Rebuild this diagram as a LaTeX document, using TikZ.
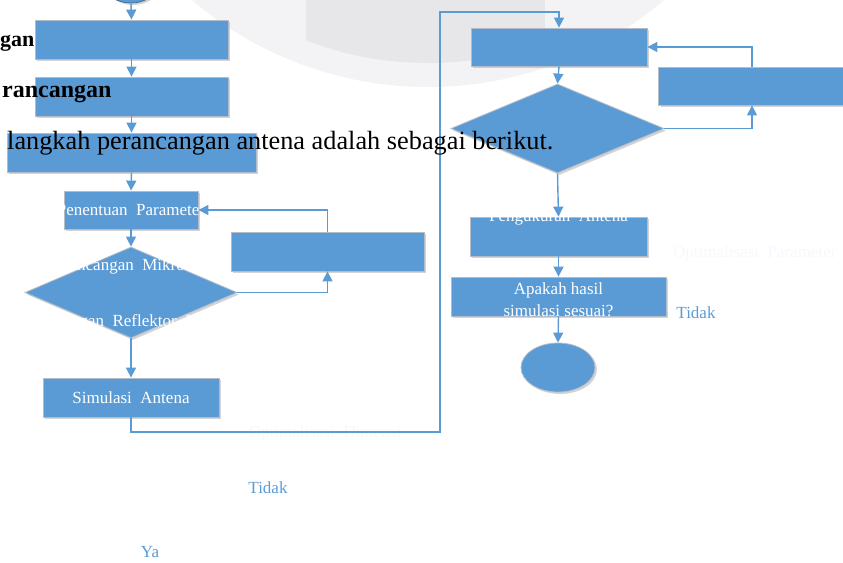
\documentclass[tikz,border=0pt]{standalone}
\usepackage{fontspec}
\setmainfont{Liberation Serif}
\usetikzlibrary{shapes.geometric,arrows.meta,shadows}
\definecolor{boxblue}{HTML}{5B9BD5}
\definecolor{boxedge}{HTML}{B4BCC8}
\definecolor{wmlight}{HTML}{F3F3F5}
\definecolor{wmdark}{HTML}{E7E7EA}
\definecolor{ghost}{HTML}{F5F8FC}
\tikzset{
  flowbox/.style={rectangle, fill=boxblue, draw=boxedge, line width=0.8pt, inner sep=0pt,
    text=white, font=\fontsize{17}{20}\selectfont, align=center,
    drop shadow={opacity=0.35, shadow xshift=2pt, shadow yshift=-2pt}},
  flowdia/.style={diamond, fill=boxblue, draw=boxedge, line width=0.8pt, inner sep=0pt,
    drop shadow={opacity=0.35, shadow xshift=2pt, shadow yshift=-2pt}},
  flowell/.style={ellipse, fill=boxblue, draw=boxedge, line width=0.8pt, inner sep=0pt,
    drop shadow={opacity=0.35, shadow xshift=2pt, shadow yshift=-2pt}},
  conn/.style={draw=boxblue, line width=1.4pt, -{Triangle[length=10pt,width=10pt]}},
  whitetxt/.style={text=white, font=\fontsize{17}{20}\selectfont, inner sep=0pt},
  ghosttxt/.style={text=ghost, font=\fontsize{17}{20}\selectfont, inner sep=0pt},
  bluelabel/.style={text=boxblue, font=\fontsize{17}{20}\selectfont, inner sep=0pt},
  bodytxt/.style={text=black, font=\fontsize{26.3}{30}\selectfont, inner sep=0pt},
  headtxt/.style={text=black, font=\fontsize{24}{29}\selectfont\bfseries, inner sep=0pt}
}
\begin{document}
\begin{tikzpicture}[x=1pt,y=-1pt]
\useasboundingbox (0,0) rectangle (843,562);
% watermark
\fill[wmlight] (428,-277) circle (364);
\begin{scope}
  \clip (428,-277) circle (340);
  \fill[wmdark] (306,0) rectangle (545,120);
\end{scope}

% left column
\node[flowell, minimum width=50pt, minimum height=34pt, draw=boxblue!70!black] (top) at (131,-14) {};
\node[flowbox, minimum width=193pt, minimum height=39pt] (b1) at (131.5,39.5) {};
\node[flowbox, minimum width=193pt, minimum height=39pt] (b2) at (131.5,96.5) {};
\node[flowbox, minimum width=249pt, minimum height=39pt] (b3) at (131.5,152.5) {};
\node[flowbox, minimum width=134pt, minimum height=38pt] (b4) at (131,210) {};
\node[flowdia, minimum width=212pt, minimum height=91pt] (dl) at (131,292.5) {};
\node[flowbox, minimum width=176pt, minimum height=39pt] (sim) at (131,397.5) {Simulasi\ \ Antena};
\node[flowbox, minimum width=193pt, minimum height=39pt] (rb) at (327.5,251.5) {};

% right column
\node[flowbox, minimum width=176pt, minimum height=38pt] (r1) at (559,47) {};
\node[flowdia, minimum width=213pt, minimum height=89pt] (dr) at (557.5,128.5) {};
\node[flowbox, minimum width=187pt, minimum height=38pt] (r2) at (752,86) {};
\node[flowbox, minimum width=177pt, minimum height=39pt] (peng) at (558.5,236.5) {};
\node[flowbox, minimum width=215pt, minimum height=39pt] (apa) at (558.5,296.5) {};
\node[flowell, minimum width=74pt, minimum height=49pt] (end) at (558,367.5) {};

% texts inside / around shapes
\node[whitetxt] (tpen) at (131,210) {Penentuan\ \ Parameter};
\node[whitetxt] (tmik) at (131,266) {Perancangan\ \ Mikrostrip};
\node[whitetxt] (tref) at (131,322) {Perancangan\ \ Reflektor\ \ Parabola};
\node[whitetxt] (tpeng) at (558.5,217) {Pengukuran\ \ Antena};
\node[whitetxt, align=center, font=\fontsize{17}{22}\selectfont] (tapa) at (558.5,300) {Apakah hasil\\simulasi\ sesuai?};
\node[ghosttxt, anchor=west] (topt) at (673,253) {Optimalisasi\ \ Parameter};
\node[ghosttxt] (tdim) at (325,433) {Optimalisasi\ \ Dimensi};

% connectors
\coordinate (c1) at (440,432);
\coordinate (c2) at (559,12);
\draw[conn] (top.south) -- (b1.north);
\draw[conn] (b1.south) -- (b2.north);
\draw[conn] (b2.south) -- (b3.north);
\draw[conn] (b3.south) -- (b4.north);
\draw[conn] (b4.south) -- (dl.north);
\draw[conn] (dl.south) -- (sim.north);
\draw[conn] (dl.east) -| (rb.south);
\draw[conn] (rb.north) |- (b4.east);
\draw[conn] (sim.south) |- (c1) |- (c2) -- (r1.north);
\draw[conn] (r1.south) -- (dr.north);
\draw[conn] (dr.east) -| (r2.south);
\draw[conn] (r2.north) |- (r1.east);
\draw[conn] (dr.south) -- (peng.north);
\draw[conn] (peng.south) -- (apa.north);
\draw[conn] (apa.south) -- (end.north);

% labels
\node[bluelabel] (lt1) at (696,313) {Tidak};
\node[bluelabel] (lt2) at (268,488) {Tidak};
\node[bluelabel] (lya) at (150,552) {Ya};

% document text
\node[headtxt, anchor=west, font=\fontsize{22}{26}\selectfont\bfseries] (h1) at (0,43) {gan};
\node[headtxt, anchor=west] (h2) at (2,94) {rancangan};
\node[bodytxt, anchor=west] (p1) at (7,143) {langkah perancangan antena adalah sebagai berikut.};
\end{tikzpicture}
\end{document}
